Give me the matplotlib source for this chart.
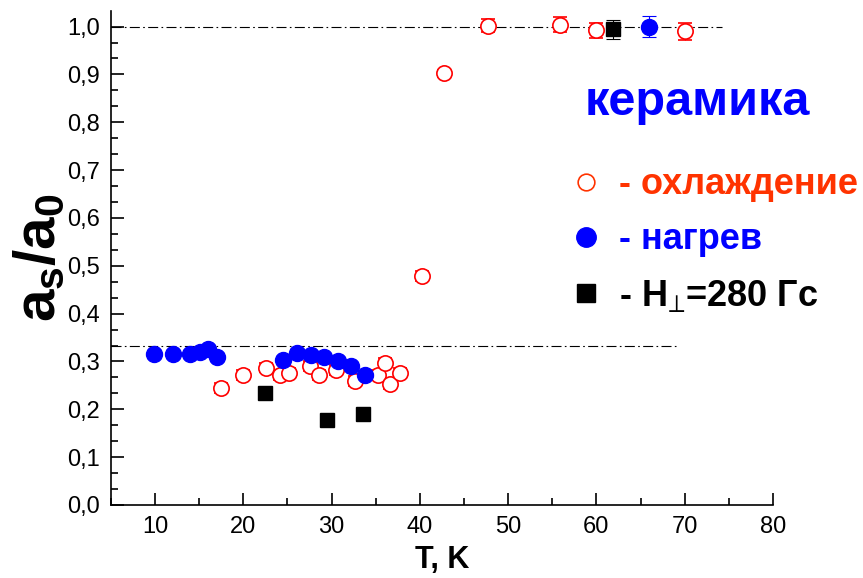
import matplotlib
matplotlib.use("Agg")
import matplotlib.pyplot as plt
from matplotlib.lines import Line2D
from matplotlib.ticker import MultipleLocator, FuncFormatter

plt.rcParams['font.family'] = ['Liberation Sans', 'DejaVu Sans']
plt.rcParams['mathtext.fontset'] = 'custom'
plt.rcParams['mathtext.rm'] = 'Liberation Sans:bold'
plt.rcParams['mathtext.bf'] = 'Liberation Sans:bold'
plt.rcParams['mathtext.it'] = 'Liberation Sans:bold'
plt.rcParams['mathtext.fallback'] = 'stixsans'

# cooling (open red circles)
coolT = [17.5, 20.0, 22.6, 24.1, 25.2, 27.6, 28.6, 30.5, 32.6, 35.2, 36.1, 36.6, 37.7,
         40.2, 42.7, 47.7, 55.9, 59.9, 70.0]
coolA = [0.245, 0.272, 0.287, 0.272, 0.276, 0.291, 0.272, 0.282, 0.259, 0.272, 0.297, 0.253, 0.276,
         0.479, 0.902, 1.002, 1.004, 0.992, 0.99]
coolErr = [0.01, 0.01, 0.01, 0.01, 0.01, 0.01, 0.01, 0.01, 0.01, 0.01, 0.01, 0.01, 0.01,
           0.01, 0.008, 0.013, 0.016, 0.016, 0.017]

# heating (filled blue circles)
heatT = [9.9, 12.0, 14.0, 15.1, 16.0, 17.0, 24.5, 26.1, 27.7, 29.1, 30.7, 32.2, 33.8, 66.0]
heatA = [0.316, 0.316, 0.316, 0.32, 0.326, 0.31, 0.303, 0.318, 0.314, 0.31, 0.30, 0.291, 0.272, 1.0]
heatErr = [0, 0, 0, 0, 0, 0, 0, 0, 0, 0, 0, 0, 0, 0.022]

# H_perp = 280 G (black squares)
fieldT = [22.5, 29.5, 33.6, 61.9]
fieldA = [0.234, 0.178, 0.19, 0.994]
fieldErr = [0, 0, 0, 0.02]

fig = plt.figure(figsize=(8.63, 5.78), dpi=100)
ax = fig.add_axes([0.1286, 0.1263, 0.767, 0.855])

ax.plot([5, 74.2], [1.0, 1.0], color='black', lw=0.8, ls=(0, (9, 3, 1.5, 3)))
ax.plot([5, 69.2], [1/3, 1/3], color='black', lw=0.8, ls=(0, (9, 3, 1.5, 3)))

ax.errorbar(coolT, coolA, yerr=coolErr, fmt='o', ms=11, mfc='white', mec='red', mew=1.2,
            ecolor='red', elinewidth=0.8, capsize=5, capthick=0.8)
ax.errorbar(fieldT, fieldA, yerr=fieldErr, fmt='s', ms=10, color='black',
            ecolor='black', elinewidth=0.8, capsize=5, capthick=0.8)
ax.errorbar(heatT, heatA, yerr=heatErr, fmt='o', ms=11.5, color='blue',
            ecolor='blue', elinewidth=0.8, capsize=5, capthick=0.8)

ax.set_xlim(5, 80)
ax.set_ylim(0, 1.033)
ax.set_xticks([10, 20, 30, 40, 50, 60, 70, 80])
ax.xaxis.set_minor_locator(MultipleLocator(5))
ax.yaxis.set_major_locator(MultipleLocator(0.1))
ax.yaxis.set_minor_locator(MultipleLocator(0.1 / 3))
ax.yaxis.set_major_formatter(FuncFormatter(lambda v, p: ('%.1f' % v).replace('.', ',')))
ax.tick_params(which='both', direction='in', labelsize=17, width=1.2)
ax.tick_params(which='major', length=9)
ax.tick_params(which='minor', length=5)
ax.tick_params(axis='y', pad=8)
ax.tick_params(axis='x', pad=8)
ax.spines['top'].set_visible(False)
ax.spines['right'].set_visible(False)
ax.spines['left'].set_linewidth(1.2)
ax.spines['bottom'].set_linewidth(1.2)

ax.set_xlabel('T, K', fontsize=22, fontweight='bold', labelpad=5)
ax.set_ylabel(r'$a_s/a_0$', fontsize=42, labelpad=0)

fig.text(0.808, 0.822, 'керамика', color='blue', fontsize=35, fontweight='bold', ha='center', va='center')

handles = [
    Line2D([], [], ls='none', marker='o', ms=12, mfc='white', mec='#ff3300', mew=1.2),
    Line2D([], [], ls='none', marker='o', ms=14, color='blue'),
    Line2D([], [], ls='none', marker='s', ms=13, color='black'),
]
labels = ['- охлаждение', '- нагрев', r'- $H_{\!\perp}\!$=280 Гс']
leg = fig.legend(handles, labels, loc='upper left', bbox_to_anchor=(0.625, 0.767), frameon=False,
                 handlelength=0.8, handletextpad=0.5, labelspacing=0.56,
                 prop={'size': 26, 'weight': 'bold'})
for t, c in zip(leg.get_texts(), ['#ff3300', 'blue', 'black']):
    t.set_color(c)

fig.savefig('out.png', dpi=100)
